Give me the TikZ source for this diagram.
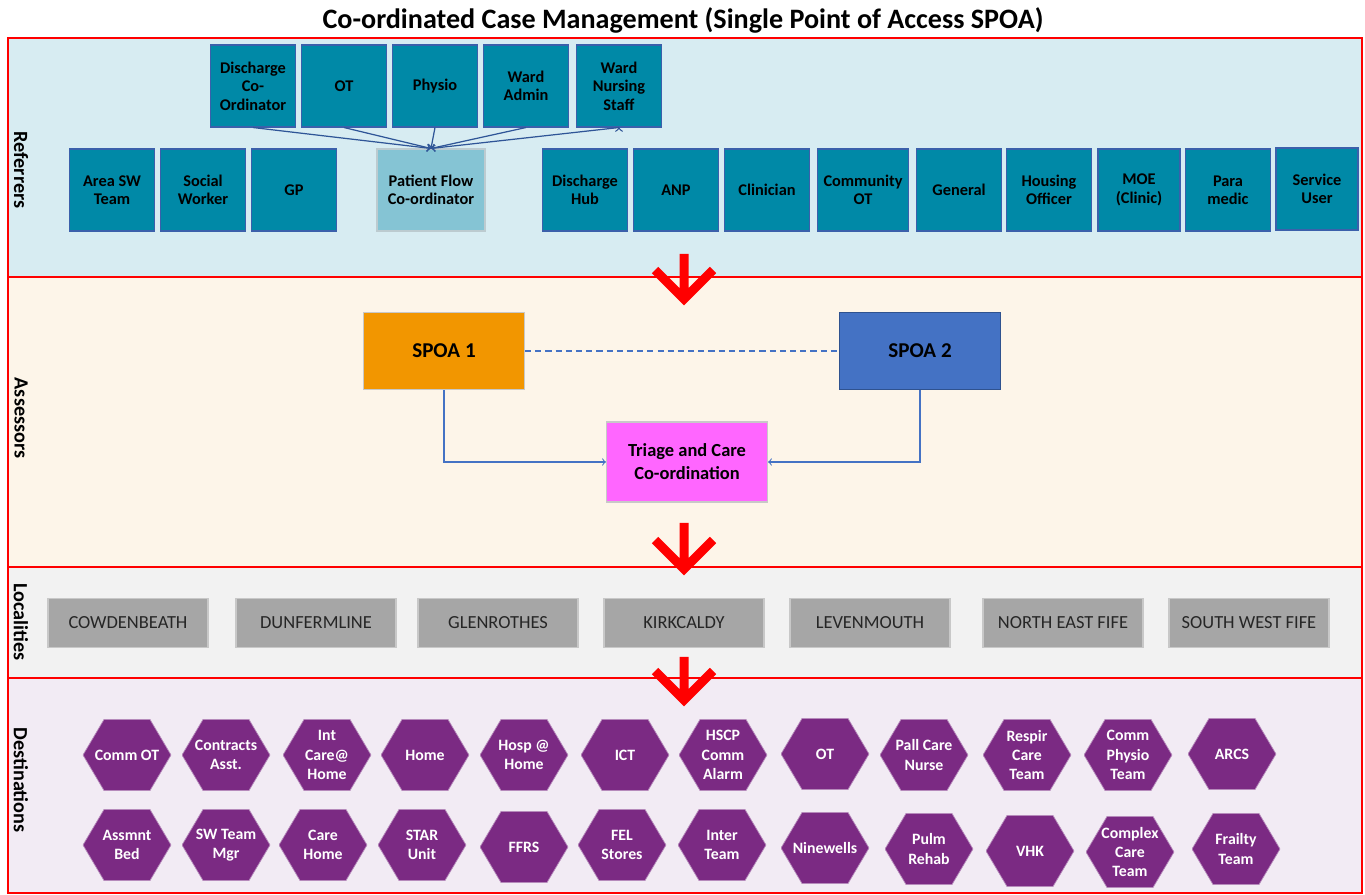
\documentclass[tikz,border=0pt]{standalone}
\usepackage{fontspec}
\setmainfont{Carlito}
\definecolor{refband}{HTML}{D7ECF2}
\definecolor{assband}{HTML}{FDF5E9}
\definecolor{locband}{HTML}{F2F2F2}
\definecolor{desband}{HTML}{F2EBF4}
\definecolor{reffill}{HTML}{0089A7}
\definecolor{refedge}{HTML}{3B60AB}
\definecolor{flowfill}{HTML}{85C4D4}
\definecolor{flowedge}{HTML}{BCCBD0}
\definecolor{spoaone}{HTML}{F29600}
\definecolor{spoatwo}{HTML}{4472C4}
\definecolor{spoatwoedge}{HTML}{2F528F}
\definecolor{triagefill}{HTML}{FF66FF}
\definecolor{lightedge}{HTML}{C8C8C8}
\definecolor{locfill}{HTML}{A6A6A6}
\definecolor{loctext}{HTML}{262626}
\definecolor{hexfill}{HTML}{7B2A83}
\definecolor{linkblue}{HTML}{4472C4}
\definecolor{refarrow}{HTML}{2F5597}

\begin{document}
\begin{tikzpicture}[x=0.2mm,y=-0.2mm,node distance=18.2mm,
		band/.style={draw=red,line width=1.4pt},
		band label/.style={rotate=-90,font=\bfseries\fontsize{11.5}{13}\selectfont},
		ref node/.style={rectangle,draw=refedge,fill=reffill,line width=0.6pt,minimum width=17mm,minimum height=16.4mm,inner sep=1pt,align=center,font=\bfseries\fontsize{9.3}{10.5}\selectfont},
		spoa node/.style={rectangle,line width=0.6pt,minimum width=32.2mm,minimum height=15.4mm,align=center,font=\bfseries\fontsize{12}{14}\selectfont},
		loc node/.style={rectangle,draw=lightedge,fill=locfill,line width=0.6pt,minimum width=32mm,minimum height=9.8mm,text=loctext,font=\fontsize{10.5}{12}\selectfont},
		hex node/.style={rectangle,minimum width=17.6mm,minimum height=14.2mm,inner sep=0pt,text=white,align=center,font=\bfseries\fontsize{9}{11}\selectfont,
			path picture={\filldraw[fill=hexfill,draw=hexfill!55!white,line width=0.4pt]
				(path picture bounding box.west) -- ([xshift=4.2mm]path picture bounding box.north west)
				-- ([xshift=-4.2mm]path picture bounding box.north east) -- (path picture bounding box.east)
				-- ([xshift=-4.2mm]path picture bounding box.south east) -- ([xshift=4.2mm]path picture bounding box.south west) -- cycle;}},
		link/.style={->,draw=linkblue,line width=0.6pt},
		big arrow/.style={draw=red,line width=1.8mm}]
		
		\useasboundingbox (0,0) rectangle (1365,895);
		
		\node[font=\bfseries\fontsize{16}{18}\selectfont] (title) at (683,20) {Co-ordinated Case Management (Single Point of Access SPOA)};
		
		\filldraw[band,fill=refband] (8,38) rectangle (1362,277);
		\filldraw[band,fill=assband] (8,277) rectangle (1362,567);
		\filldraw[band,fill=locband] (8,567) rectangle (1362,678);
		\filldraw[band,fill=desband] (8,678) rectangle (1362,893);
		
		\node[band label] (referrers) at (21,170) {Referrers};
		\node[band label] (assessors) at (21,418) {Assessors};
		\node[band label] (localities) at (21,622) {Localities};
		\node[band label] (destinations) at (21,780) {Destinations};
		
		\node[ref node] (dc) at (253,86) {Discharge\\Co-\\Ordinator};
		\node[ref node] (ot) [right of=dc] {OT};
		\node[ref node] (physio) [right of=ot] {Physio};
		\node[ref node] (admin) [right of=physio] {Ward\\Admin};
		\node[ref node] (nursing) at (619,86) {Ward\\Nursing\\Staff};
		
		\node[ref node] (areasw) at (112,190) {Area SW\\Team};
		\node[ref node] (social) [right of=areasw] {Social\\Worker};
		\node[ref node] (gp) [right of=social] {GP};
		\node[ref node,fill=flowfill,draw=flowedge,minimum width=21.6mm] (flow) at (431,190) {Patient Flow\\Co-ordinator};
		\node[ref node] (hub) at (585,190) {Discharge\\Hub};
		\node[ref node] (anp) [right of=hub] {ANP};
		\node[ref node] (clinician) [right of=anp] {Clinician};
		\node[ref node,minimum width=18.2mm] (comot) at (863,190) {Community\\OT};
		\node[ref node] (general) at (959,190) {General};
		\node[ref node] (housing) at (1049,190) {Housing\\Officer};
		\node[ref node,minimum width=16.4mm] (moe) at (1139,190) {MOE\\(Clinic)};
		\node[ref node] (para) at (1228,190) {Para\\medic};
		\node[ref node,minimum width=16.4mm] (service) at (1317,189) {Service\\User};
		
		\path[->,draw=refarrow,line width=0.7pt]
		(dc.south) edge (flow.north)
		(ot.south) edge (flow.north)
		(physio.south) edge (flow.north)
		(admin.south) edge (flow.north)
		(nursing.south) edge (flow.north);
		
		\node[spoa node,fill=spoaone,draw=lightedge] (spoa1) at (444,351) {SPOA 1};
		\node[spoa node,fill=spoatwo,draw=spoatwoedge] (spoa2) at (920,351) {SPOA 2};
		\node[spoa node,fill=triagefill,draw=lightedge,minimum height=16mm,font=\bfseries\fontsize{10.5}{13}\selectfont] (triage) at (687,462) {Triage and Care\\Co-ordination};
		
		\draw[draw=linkblue,line width=0.7pt,dash pattern=on 3.5pt off 2.3pt] (spoa1.east) -- (spoa2.west);
		\draw[link] (spoa1.south) |- (triage.west);
		\draw[link] (spoa2.south) |- (triage.east);
		
		\node[loc node] (cowdenbeath) at (128,623) {COWDENBEATH};
		\node[loc node] (dunfermline) at (316,623) {DUNFERMLINE};
		\node[loc node] (glenrothes) at (498,623) {GLENROTHES};
		\node[loc node] (kirkcaldy) at (684,623) {KIRKCALDY};
		\node[loc node] (levenmouth) at (870,623) {LEVENMOUTH};
		\node[loc node] (nefife) at (1063,623) {NORTH EAST FIFE};
		\node[loc node] (swfife) at (1249,623) {SOUTH WEST FIFE};
		
		\draw[big arrow] (684,254) -- (684,298) (655,270) -- (684,299) -- (713,270);
		\draw[big arrow] (684,523) -- (684,567) (655,540) -- (684,569) -- (713,540);
		\draw[big arrow] (684,657) -- (684,698) (655,671) -- (684,700) -- (713,671);
		
		\node[hex node] (commot) at (127,755) {Comm OT};
		\node[hex node] (contracts) at (226,755) {Contracts\\Asst.};
		\node[hex node] (intcare) at (327,755) {Int\\Care@\\Home};
		\node[hex node] (home) at (425,755) {Home};
		\node[hex node] (hosp) at (524,755) {Hosp @\\Home};
		\node[hex node] (ict) at (625,755) {ICT};
		\node[hex node] (hscp) at (723,755) {HSCP\\Comm\\Alarm};
		\node[hex node] (otd) at (825,754) {OT};
		\node[hex node] (pall) at (924,755) {Pall Care\\Nurse};
		\node[hex node] (respir) at (1027,755) {Respir\\Care\\Team};
		\node[hex node] (physiot) at (1128,755) {Comm\\Physio\\Team};
		\node[hex node] (arcs) at (1232,754) {ARCS};
		
		\node[hex node] (assmnt) at (127,845) {Assmnt\\Bed};
		\node[hex node] (swmgr) at (226,845) {SW Team\\Mgr};
		\node[hex node] (carehome) at (323,845) {Care\\Home};
		\node[hex node] (star) at (422,845) {STAR\\Unit};
		\node[hex node] (ffrs) at (524,847) {FFRS};
		\node[hex node] (fel) at (622,845) {FEL\\Stores};
		\node[hex node] (inter) at (722,845) {Inter\\Team};
		\node[hex node] (ninewells) at (825,848) {Ninewells};
		\node[hex node] (pulm) at (929,849) {Pulm\\Rehab};
		\node[hex node] (vhk) at (1030,851) {VHK};
		\node[hex node] (complex) at (1130,852) {Complex\\Care\\Team};
		\node[hex node] (frailty) at (1236,849) {Frailty\\Team};
		\end{tikzpicture}
\end{document}
